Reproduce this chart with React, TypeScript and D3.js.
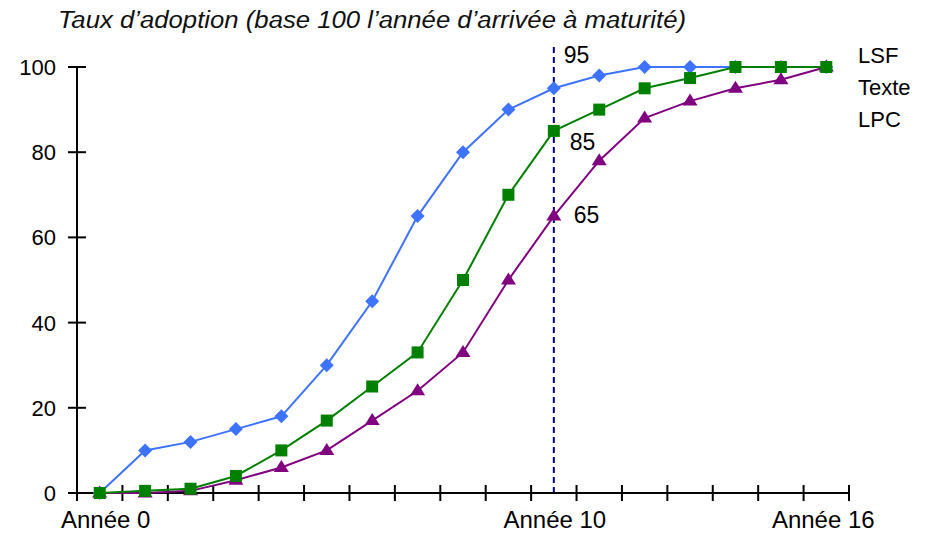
import React from "react";
import * as d3 from "d3";

const years = d3.range(0, 17);
const lsf = [0, 10, 12, 15, 18, 30, 45, 65, 80, 90, 95, 98, 100, 100, 100, 100, 100];
const texte = [0, 0.5, 1, 4, 10, 17, 25, 33, 50, 70, 85, 90, 95, 97.4, 100, 100, 100];
const lpc = [0, 0, 0.5, 3, 6, 10, 17, 24, 33, 50, 65, 78, 88, 92, 95, 97, 100];
const yTicks = [0, 20, 40, 60, 80, 100];
const xLabels = [
  { year: 0, text: "Année 0", dx: 6 },
  { year: 10, text: "Année 10", dx: 1 },
  { year: 16, text: "Année 16", dx: -3 },
];
const legendNames = ["LSF", "Texte", "LPC"];
const annotations = [
  { value: 95, text: "95", dx: 10, dy: -25 },
  { value: 85, text: "85", dx: 16, dy: 19 },
  { value: 65, text: "65", dx: 20, dy: 7 },
];
const title = "Taux d\u2019adoption (base 100 l\u2019ann\u00e9e d\u2019arriv\u00e9e \u00e0 maturit\u00e9)";
const markerYear = 10;

const W = 933;
const H = 533;
const FONT = "'Liberation Sans', Arial, Helvetica, sans-serif";

export default function App() {
  const x = d3.scalePoint<number>().domain(years).range([77, 849]).padding(0.5);
  const y = d3.scaleLinear().domain([0, 100]).range([493, 67]);
  const step = x.step();
  const tickXs = d3.range(0, years.length + 1).map((i) => 77 + i * step);

  const line = d3
    .line<number>()
    .x((_, i) => x(years[i]) as number)
    .y((d) => y(d));

  const series = [
    { name: "LSF", values: lsf, color: "#3d73ff", shape: "diamond" },
    { name: "LPC", values: lpc, color: "#800080", shape: "triangle" },
    { name: "Texte", values: texte, color: "#008000", shape: "square" },
  ];

  const marker = (shape: string, cx: number, cy: number, color: string, key: string) => {
    if (shape === "diamond") {
      const r = 7;
      return (
        <path key={key} d={`M${cx},${cy - r}L${cx + r},${cy}L${cx},${cy + r}L${cx - r},${cy}Z`} fill={color} />
      );
    }
    if (shape === "square") {
      const s = 12;
      return <rect key={key} x={cx - s / 2} y={cy - s / 2} width={s} height={s} fill={color} />;
    }
    const r = 7.5;
    return (
      <path
        key={key}
        d={`M${cx},${cy - r}L${cx + r},${cy + r * 0.6}L${cx - r},${cy + r * 0.6}Z`}
        fill={color}
      />
    );
  };

  const xm = x(markerYear) as number;

  return (
    <svg
      width={W}
      height={H}
      style={{ position: "absolute", left: 0, top: 0, background: "#fff" }}
      fontFamily={FONT}
    >
      <rect width={W} height={H} fill="#fff" />
      <text x={58} y={28} fontSize={23} fontStyle="italic" fill="#111" textLength={628} lengthAdjust="spacingAndGlyphs">
        {title}
      </text>

      {/* dashed vertical line */}
      <line x1={xm} x2={xm} y1={47} y2={y(0)} stroke="#000080" strokeWidth={2} strokeDasharray="6,4" />

      {/* axes */}
      <line x1={77} x2={77} y1={y(100)} y2={y(0)} stroke="#000" strokeWidth={2} />
      <line x1={77} x2={849} y1={y(0)} y2={y(0)} stroke="#000" strokeWidth={2} />
      {yTicks.map((t) => (
        <g key={"yt" + t}>
          <line x1={68} x2={86} y1={y(t)} y2={y(t)} stroke="#000" strokeWidth={2} />
          <text x={56} y={y(t) + 8} fontSize={22} textAnchor="end" fill="#000">
            {t}
          </text>
        </g>
      ))}
      {tickXs.map((tx, i) => (
        <line key={"xt" + i} x1={tx} x2={tx} y1={y(0) - 8} y2={y(0) + 8} stroke="#000" strokeWidth={2} />
      ))}
      {xLabels.map((l) => (
        <text
          key={l.text}
          x={(x(l.year) as number) + l.dx}
          y={528}
          fontSize={24}
          textAnchor="middle"
          fill="#000"
        >
          {l.text}
        </text>
      ))}

      {/* series */}
      {series.map((s) => (
        <g key={s.name}>
          <path d={line(s.values) || ""} fill="none" stroke={s.color} strokeWidth={2} />
          {s.values.map((v, i) => marker(s.shape, x(years[i]) as number, y(v), s.color, s.name + i))}
        </g>
      ))}

      {/* annotations */}
      {annotations.map((a) => (
        <text key={a.text} x={xm + a.dx} y={y(a.value) + a.dy} fontSize={23} fill="#000">
          {a.text}
        </text>
      ))}

      {/* legend */}
      {legendNames.map((n, i) => (
        <text key={n} x={858} y={63 + i * 32} fontSize={22} fill="#000">
          {n}
        </text>
      ))}
    </svg>
  );
}
